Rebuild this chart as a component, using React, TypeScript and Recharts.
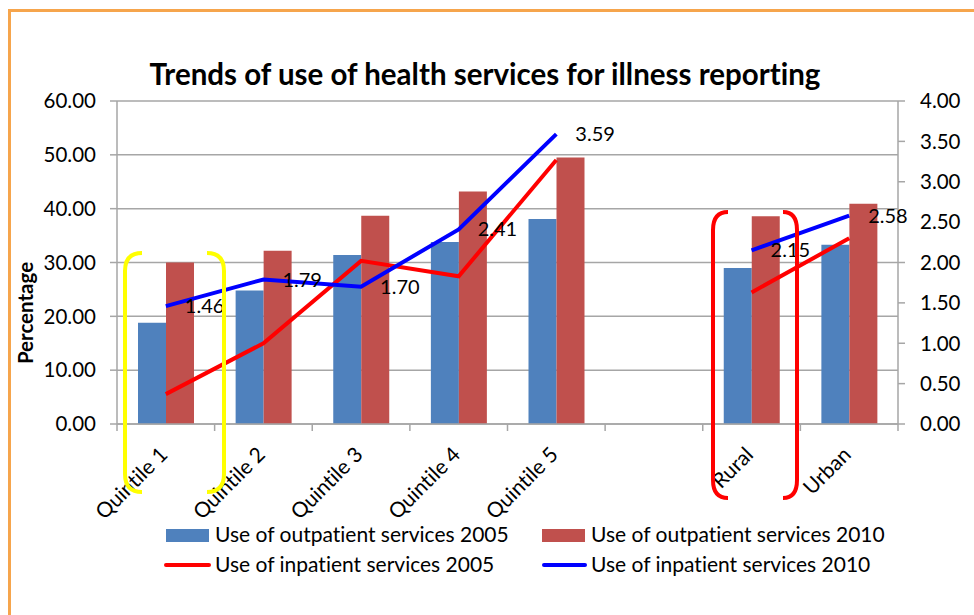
import { ComposedChart, Bar, Line, XAxis, YAxis, CartesianGrid, LabelList } from 'recharts';

const categories = ['Quintile 1', 'Quintile 2', 'Quintile 3', 'Quintile 4', 'Quintile 5', '', 'Rural', 'Urban'];
const outpatient2005 = [18.8, 24.8, 31.4, 33.8, 38.1, null, 29.0, 33.3];
const outpatient2010 = [30.0, 32.2, 38.7, 43.2, 49.5, null, 38.6, 40.9];
const inpatient2005 = [0.37, 1.0, 2.02, 1.83, 3.27, null, 1.63, 2.3];
const inpatient2010 = [1.46, 1.79, 1.7, 2.41, 3.59, null, 2.15, 2.58];
const leftTicks = [0, 10, 20, 30, 40, 50, 60];
const rightTicks = [0, 0.5, 1, 1.5, 2, 2.5, 3, 3.5, 4];

const data = categories.map((name, i) => ({
  name,
  out2005: outpatient2005[i],
  out2010: outpatient2010[i],
  in2005: inpatient2005[i],
  in2010: inpatient2010[i],
}));

const FONT = "Lato, Carlito, Calibri, sans-serif";
const GRID = '#a6a6a6';

const CategoryTick = (props: any) => {
  const { x, y, payload, index, width, visibleTicksCount } = props;
  const half = width && visibleTicksCount ? width / visibleTicksCount / 2 : 48.8;
  const tx = x + 3;
  const ty = y + 32;
  return (
    <g>
      <line x1={x - half} y1={y} x2={x - half} y2={y + 7} stroke={GRID} strokeWidth={1.5} />
      {index === categories.length - 1 && (
        <line x1={x + half} y1={y} x2={x + half} y2={y + 7} stroke={GRID} strokeWidth={1.5} />
      )}
      <text x={tx} y={ty} transform={`rotate(-45, ${tx}, ${ty})`} textAnchor="end" fontSize={21} fill="#000" fontFamily={FONT}>
        {payload.value}
      </text>
    </g>
  );
};

// rounded bracket annotation
const bracket = (x0: number, x1: number, top: number, bottom: number) =>
  `M ${x1} ${top} Q ${x0} ${top} ${x0} ${top + 18} L ${x0} ${bottom - 18} Q ${x0} ${bottom} ${x1} ${bottom}`;

export default function App() {
  return (
    <div style={{ position: 'absolute', left: 0, top: 0, width: 974, height: 615, background: '#fff', fontFamily: FONT, fontVariantLigatures: 'none' }}>
      <div style={{ position: 'absolute', left: 8, top: 9, right: 0, bottom: 0, borderLeft: '3px solid #f6a54c', borderTop: '3px solid #f6a54c' }} />
      <ComposedChart
        width={974}
        height={615}
        data={data}
        margin={{ top: 101, left: 57, right: 10, bottom: 101 }}
        barGap={0}
        barSize={28}
        style={{ position: 'absolute', left: 0, top: 0 }}
      >
        <CartesianGrid vertical={false} stroke={GRID} strokeWidth={1.5} yAxisId="left" />
        <XAxis
          dataKey="name"
          interval={0}
          tickLine={false}
          tickSize={0}
          tickMargin={0}
          height={90}
          axisLine={{ stroke: GRID, strokeWidth: 1.5 }}
          tick={<CategoryTick />}
        />
        <YAxis
          yAxisId="left"
          width={60}
          domain={[0, 60]}
          ticks={leftTicks}
          tickFormatter={(v: number) => v.toFixed(2)}
          tick={{ fontSize: 20.5, fill: '#000', fontFamily: FONT }}
          tickSize={7}
          tickMargin={14}
          axisLine={{ stroke: GRID, strokeWidth: 1.5 }}
          tickLine={{ stroke: GRID, strokeWidth: 1.5 }}
        />
        <YAxis
          yAxisId="right"
          orientation="right"
          width={66}
          domain={[0, 4]}
          ticks={rightTicks}
          tickFormatter={(v: number) => v.toFixed(2)}
          tick={{ fontSize: 20.5, fill: '#000', fontFamily: FONT }}
          tickSize={7}
          tickMargin={15}
          axisLine={{ stroke: GRID, strokeWidth: 1.5 }}
          tickLine={{ stroke: GRID, strokeWidth: 1.5 }}
        />
        <Bar yAxisId="left" dataKey="out2005" fill="#4f81bd" isAnimationActive={false} />
        <Bar yAxisId="left" dataKey="out2010" fill="#c0504d" isAnimationActive={false} />
        <Line yAxisId="right" dataKey="in2005" stroke="#ff0000" strokeWidth={4} dot={false} isAnimationActive={false} />
        <Line yAxisId="right" dataKey="in2010" stroke="#0000ff" strokeWidth={4} dot={false} isAnimationActive={false}>
          <LabelList
            dataKey="in2010"
            position="right"
            offset={19}
            formatter={(v: any) => (v == null ? '' : Number(v).toFixed(2))}
            style={{ fontSize: 20, fill: '#000', fontFamily: FONT }}
          />
        </Line>
      </ComposedChart>
      <svg width={974} height={615} style={{ position: 'absolute', left: 0, top: 0, pointerEvents: 'none' }}>
        <text x={485} y={85} textAnchor="middle" fontSize={29.5} fontWeight="bold" fontFamily={FONT} fill="#000">
          Trends of use of health services for illness reporting
        </text>
        <text x={33} y={313} transform="rotate(-90, 33, 313)" textAnchor="middle" fontSize={20.5} fontWeight="bold" fontFamily={FONT} fill="#000">
          Percentage
        </text>
        <path d={bracket(125, 142, 253, 492)} fill="none" stroke="#ffff00" strokeWidth={4} />
        <path d={bracket(224, 207, 253, 492)} fill="none" stroke="#ffff00" strokeWidth={4} />
        <path d={bracket(713, 728, 212, 498)} fill="none" stroke="#ff0000" strokeWidth={4} />
        <path d={bracket(797, 783, 212, 498)} fill="none" stroke="#ff0000" strokeWidth={4} />
        <g fontFamily={FONT} fontSize={21} fill="#000">
          <rect x={166} y={529} width={43} height={13} fill="#4f81bd" />
          <text x={215} y={542}>Use of outpatient services 2005</text>
          <rect x={542} y={529} width={43} height={13} fill="#c0504d" />
          <text x={591} y={542}>Use of outpatient services 2010</text>
          <line x1={166} y1={565} x2={209} y2={565} stroke="#ff0000" strokeWidth={4} strokeLinecap="round" />
          <text x={215} y={572}>Use of inpatient services 2005</text>
          <line x1={544} y1={565} x2={585} y2={565} stroke="#0000ff" strokeWidth={4} strokeLinecap="round" />
          <text x={591} y={572}>Use of inpatient services 2010</text>
        </g>
      </svg>
    </div>
  );
}
